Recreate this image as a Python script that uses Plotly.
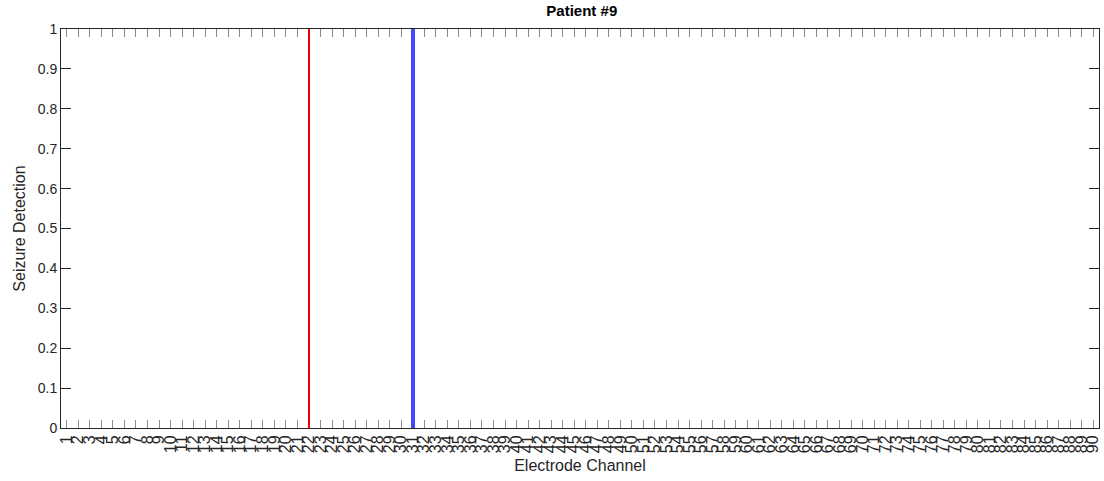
import plotly.graph_objects as go

# Electrode channels and detection results for patient 9
channels = list(range(1, 91))
onset_channel = [22]      # clinically marked onset channel
onset_value = [1]
detected_channel = [31]   # channel flagged by the detector
detected_value = [1]

y_ticks = [0, 0.1, 0.2, 0.3, 0.4, 0.5, 0.6, 0.7, 0.8, 0.9, 1]
y_labels = ["0", "0.1", "0.2", "0.3", "0.4", "0.5", "0.6", "0.7", "0.8", "0.9", "1"]

axis_color = "#262626"
font_family = "Liberation Sans, Arial, sans-serif"

fig = go.Figure()
fig.add_trace(go.Bar(
    x=onset_channel, y=onset_value, width=0.2,
    marker=dict(color="rgb(245,0,0)", line=dict(width=0)),
    showlegend=False,
))
fig.add_trace(go.Bar(
    x=detected_channel, y=detected_value, width=0.36,
    marker=dict(color="rgb(70,70,255)", line=dict(width=0)),
    showlegend=False,
))

fig.update_layout(
    width=1104, height=481,
    margin=dict(l=61, r=5, t=29, b=53),
    paper_bgcolor="white", plot_bgcolor="white",
    font=dict(family=font_family, color=axis_color, size=13),
    title=dict(text="<b>Patient #9</b>", x=0.527, xanchor="center",
               y=0.978, yanchor="middle",
               font=dict(size=15, color="black", family=font_family)),
    bargap=0,
)

fig.update_xaxes(
    range=[0.5, 90.5], automargin=False,
    tickmode="array", tickvals=channels, ticktext=[str(c) for c in channels],
    tickangle=-90, ticks="inside", ticklen=8, tickwidth=1, tickcolor="#8a8a8a",
    showline=True, linecolor=axis_color, linewidth=1, mirror="ticks",
    showgrid=False, zeroline=False, layer="below traces",
    tickfont=dict(size=16, color=axis_color),
    title=dict(text="Electrode Channel", standoff=7,
               font=dict(size=16, color=axis_color)),
)
fig.update_yaxes(
    range=[0, 1], automargin=False,
    tickmode="array", tickvals=y_ticks, ticktext=y_labels,
    ticks="inside", ticklen=10, tickwidth=1, tickcolor=axis_color,
    showline=True, linecolor=axis_color, linewidth=1, mirror="ticks",
    showgrid=False, zeroline=False,
    tickfont=dict(size=14, color=axis_color),
    title=dict(text="Seizure Detection", standoff=8,
               font=dict(size=16, color=axis_color)),
)

fig.write_html("out.html")
